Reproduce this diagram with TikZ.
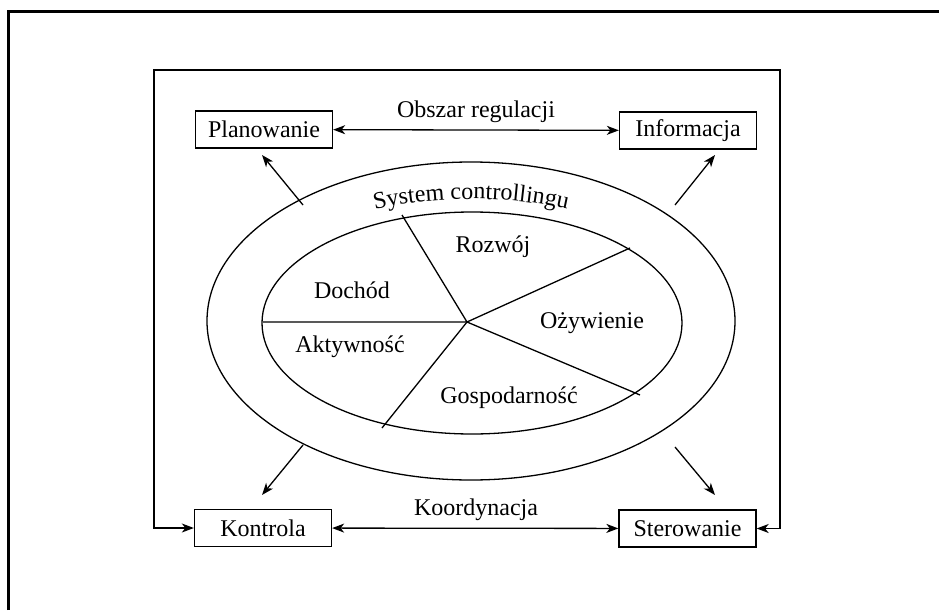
\documentclass[tikz,border=0pt]{standalone}
\usepackage{fontspec}
\setmainfont{Liberation Serif}
\usetikzlibrary{arrows.meta,decorations.text}
\newcommand\bigtext{\fontsize{24}{28}\selectfont}
\begin{document}
\begin{tikzpicture}[x=1pt,y=-1pt,
  line width=1.3pt,
  tip/.tip={Stealth[length=12pt,width=9pt,inset=3.5pt]},
  box/.style={draw,minimum width=137pt,minimum height=37pt,inner sep=0pt,
    font=\bigtext},
  lbl/.style={anchor=base,inner sep=0pt,font=\bigtext},
  pointer/.style={-tip}]
\useasboundingbox (0,0) rectangle (939,610);
\clip (0,0) rectangle (939,610);

% page frame (top and left edges)
\draw[line width=3pt] (8.7,610) -- (8.7,11.3) -- (939,11.3);

% the four function boxes
\node[box] (plan) at (264,129.5) {Planowanie};
\node[box] (info) at (688,130.5) {Informacja};
\node[box] (kont) at (263,528) {Kontrola};
\node[box] (ster) at (687.5,528.5) {Sterowanie};

% horizontal links
\draw[tip-tip] (plan) -- (info);
\draw[tip-tip] (kont) -- (ster);
\node[lbl] (obszar) at (476,117) {Obszar regulacji};
\node[lbl] (koord) at (476,515) {Koordynacja};

% surrounding loop
\coordinate (lb) at (154,528);
\coordinate (lt) at (154,70);
\coordinate (rt) at (780,70);
\coordinate (rb) at (780,528.5);
\draw[tip-tip] (kont.west) -- (lb) -- (lt) -- (rt) -- (rb) -- (ster.east);

% controlling system: two ellipses
\coordinate (c) at (471,321);
\draw (c) ellipse [x radius=264, y radius=159];
\draw (472,323) ellipse [x radius=210, y radius=111];
\path[decorate,decoration={text along path,text align=center,
    text={|\bigtext|System controllingu}}]
  (471,322) ++(205:239 and 123) arc[start angle=205,end angle=335,x radius=239,y radius=123];

% pie segments
\coordinate (o) at (467,322);
\coordinate (s1) at (263,322);
\coordinate (s2) at (402,215);
\coordinate (s3) at (630,248);
\coordinate (s4) at (640,395);
\coordinate (s5) at (382,428);
\draw (s1) -- (o) -- (s2);
\draw (o) -- (s3);
\draw (o) -- (s4);
\draw (o) -- (s5);

\node[lbl] (doch) at (352,298) {Dochód};
\node[lbl] (rozw) at (493,252) {Rozwój};
\node[lbl] (ozyw) at (592,328) {Ożywienie};
\node[lbl] (akty) at (350,352) {Aktywność};
\node[lbl] (gosp) at (509,403) {Gospodarność};

% diagonal pointers from the system to the boxes
\coordinate (p1a) at (303,205); \coordinate (p1b) at (262,155);
\coordinate (p2a) at (675,205); \coordinate (p2b) at (715,155);
\coordinate (p3a) at (303,445); \coordinate (p3b) at (262,495);
\coordinate (p4a) at (675,447); \coordinate (p4b) at (715,495);
\draw[pointer] (p1a) -- (p1b);
\draw[pointer] (p2a) -- (p2b);
\draw[pointer] (p3a) -- (p3b);
\draw[pointer] (p4a) -- (p4b);
\end{tikzpicture}
\end{document}
